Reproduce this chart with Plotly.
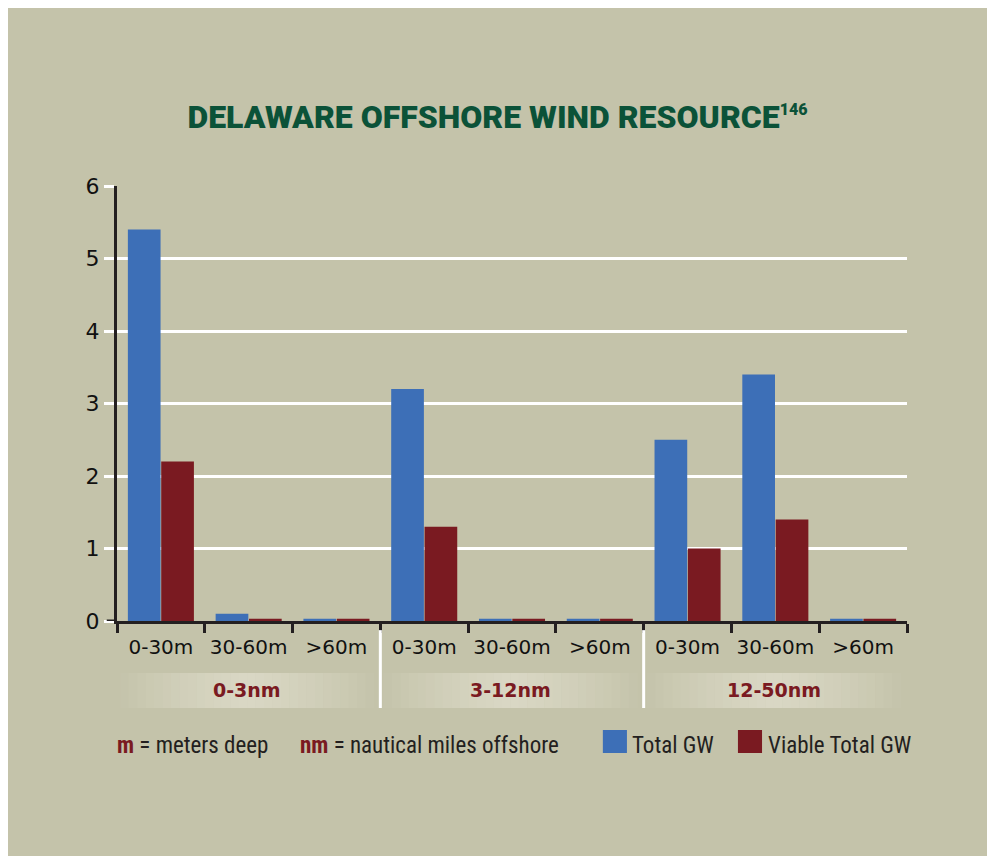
import plotly.graph_objects as go

depths = ["0-30m", "30-60m", ">60m", "0-30m", "30-60m", ">60m", "0-30m", "30-60m", ">60m"]
zones = ["0-3nm", "3-12nm", "12-50nm"]
total_gw = [5.4, 0.1, 0.03, 3.2, 0.03, 0.03, 2.5, 3.4, 0.03]
viable_gw = [2.2, 0.03, 0.03, 1.3, 0.03, 0.03, 1.0, 1.4, 0.03]
series_names = ["Total GW", "Viable Total GW"]
series_colors = ["#3D6FB7", "#7A1A21"]
yticks = [0, 1, 2, 3, 4, 5, 6]

BG = "#C4C3AA"
xpos = list(range(len(depths)))

fig = go.Figure()
for name, vals, col in zip(series_names, [total_gw, viable_gw], series_colors):
    fig.add_trace(go.Bar(x=xpos, y=vals, name=name, marker=dict(color=col, line=dict(width=0)),
                         showlegend=False))

shapes = []
annotations = []

def lerp(c1, c2, t):
    return tuple(int(round(a + (b - a) * t)) for a, b in zip(c1, c2))

edge = (0xC4, 0xC3, 0xAA)
mid = (0xDA, 0xD8, 0xC5)
n = len(depths)
for g, z in enumerate(zones):
    x0 = 3 * g / n + 0.004
    x1 = 3 * (g + 1) / n - 0.008
    steps = 30
    for i in range(steps):
        t = (i + 0.5) / steps
        f = 1 - abs(2 * t - 1)
        c = lerp(edge, mid, f ** 0.8)
        shapes.append(dict(type="rect", xref="paper", yref="paper",
                           x0=x0 + (x1 - x0) * i / steps, x1=x0 + (x1 - x0) * (i + 1) / steps + 0.0005,
                           y0=-0.2, y1=-0.1195, line=dict(width=0),
                           fillcolor="rgb(%d,%d,%d)" % c, layer="below"))
    annotations.append(dict(xref="paper", yref="paper", x=(3 * g + 1.5) / n - 0.002, y=-0.159,
                            text="<b>%s</b>" % z, showarrow=False,
                            font=dict(family="DejaVu Sans", size=19, color="#7A1A21"),
                            xanchor="center", yanchor="middle"))

for g in range(1, len(zones)):
    shapes.append(dict(type="line", xref="paper", yref="paper", x0=3 * g / n, x1=3 * g / n,
                       y0=-0.021, y1=-0.2, line=dict(color="white", width=3)))

shapes.append(dict(type="line", xref="paper", yref="y", x0=-0.013, x1=0, y0=0, y1=0,
                   line=dict(color="#231F20", width=3), layer="above"))

leg_font = dict(family="Liberation Sans Narrow, Roboto Condensed, Arial Narrow, sans-serif", size=23, color="#231F20")
for (sx0, tx), name, col in zip([(0.615, 0.649), (0.786, 0.8215)], series_names, series_colors):
    shapes.append(dict(type="rect", xref="paper", yref="paper", x0=sx0, x1=sx0 + 0.0305,
                       y0=-0.3034, y1=-0.2506, line=dict(width=0), fillcolor=col))
    annotations.append(dict(xref="paper", yref="paper", x=tx, y=-0.287, text=name, showarrow=False,
                            xanchor="left", yanchor="middle", font=leg_font))

annotations.append(dict(xref="paper", yref="paper", x=-0.0025, y=-0.287,
                        text="<b><span style='color:#7A1A21'>m</span></b> = meters deep",
                        showarrow=False, xanchor="left", yanchor="middle", font=leg_font))
annotations.append(dict(xref="paper", yref="paper", x=0.229, y=-0.287,
                        text="<b><span style='color:#7A1A21'>nm</span></b> = nautical miles offshore",
                        showarrow=False, xanchor="left", yanchor="middle", font=leg_font))

fig.update_layout(
    width=979, height=848,
    margin=dict(l=109, r=80, t=178, b=235),
    paper_bgcolor=BG, plot_bgcolor=BG,
    barmode="group", bargap=0.24, bargroupgap=0.02,
    title=dict(text="DELAWARE OFFSHORE WIND RESOURCE<sup><span style='font-size:16px'>146</span></sup>",
               x=0.5, xanchor="center",
               y=1 - 109 / 848, yanchor="middle", yref="container",
               font=dict(family="Roboto", size=32, color="#0B5238", weight=900)),
    shapes=shapes, annotations=annotations,
    xaxis=dict(range=[-0.5, n - 0.5], tickmode="array", tickvals=xpos, ticktext=depths,
               ticks="outside", ticklen=6, tickcolor="rgba(0,0,0,0)",
               showline=True, linecolor="#231F20", linewidth=3, showgrid=False, zeroline=False,
               tickfont=dict(family="DejaVu Sans", size=20, color="#111111"),
               minor=dict(tickmode="array", tickvals=[i - 0.5 for i in range(n + 1)], ticks="outside",
                          ticklen=9, tickwidth=3, tickcolor="#231F20", showgrid=False)),
    yaxis=dict(range=[0, 6], tickmode="array", tickvals=yticks, ticks="outside", ticklen=10,
               tickwidth=3, tickcolor="white", showgrid=True, gridcolor="white", gridwidth=3,
               showline=True, linecolor="#231F20", linewidth=3, zeroline=False,
               tickfont=dict(family="DejaVu Sans", size=22, color="#111111")),
)

fig.write_html("out.html", post_script="document.body.style.margin='8px 0 0 8px';")
